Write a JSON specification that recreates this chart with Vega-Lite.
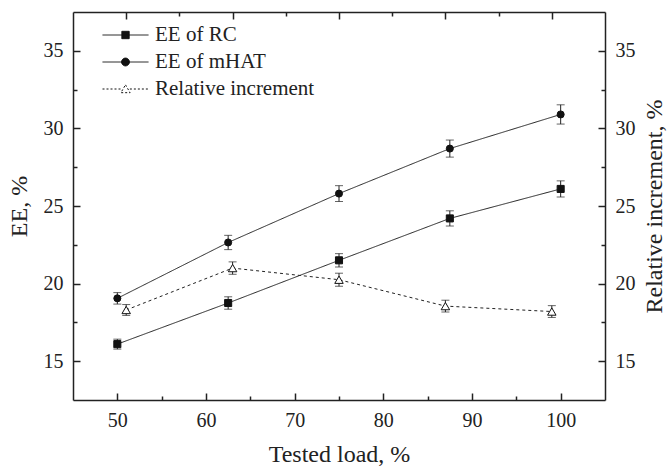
{
  "$schema": "https://vega.github.io/schema/vega-lite/v6.json",
  "width": 532,
  "height": 388,
  "padding": {"left": 73, "top": 12, "right": 65, "bottom": 66},
  "autosize": "none",
  "background": "white",
  "config": {
    "view": {"stroke": null},
    "axis": {
      "domainColor": "#222",
      "domainWidth": 1.5,
      "tickColor": "#222",
      "tickWidth": 1.5,
      "labelFont": "Liberation Serif",
      "titleFont": "Liberation Serif",
      "titleFontSize": 24,
      "titleFontWeight": "normal",
      "titleColor": "#222",
      "grid": false
    },
    "axisLeft": {"labelFont": "Liberation Serif"},
    "axisRight": {"labelFont": "Liberation Serif"},
    "axisBottom": {"labelFont": "Liberation Serif"},
    "axisQuantitative": {"labelFont": "Liberation Serif"}
  },
  "data": {
    "values": [
      {"series": "EE of RC", "load": 50, "value": 16.1, "lo": 15.78, "hi": 16.42},
      {"series": "EE of RC", "load": 62.5, "value": 18.75, "lo": 18.35, "hi": 19.15},
      {"series": "EE of RC", "load": 75, "value": 21.5, "lo": 21.07, "hi": 21.93},
      {"series": "EE of RC", "load": 87.5, "value": 24.2, "lo": 23.71, "hi": 24.69},
      {"series": "EE of RC", "load": 100, "value": 26.1, "lo": 25.58, "hi": 26.62},
      {"series": "EE of mHAT", "load": 50, "value": 19.05, "lo": 18.68, "hi": 19.42},
      {"series": "EE of mHAT", "load": 62.5, "value": 22.65, "lo": 22.19, "hi": 23.11},
      {"series": "EE of mHAT", "load": 75, "value": 25.8, "lo": 25.29, "hi": 26.31},
      {"series": "EE of mHAT", "load": 87.5, "value": 28.7, "lo": 28.15, "hi": 29.25},
      {"series": "EE of mHAT", "load": 100, "value": 30.9, "lo": 30.28, "hi": 31.52},
      {"series": "Relative increment", "load": 51, "value": 18.3, "lo": 17.95, "hi": 18.65},
      {"series": "Relative increment", "load": 63, "value": 21.0, "lo": 20.6, "hi": 21.4},
      {"series": "Relative increment", "load": 75, "value": 20.25, "lo": 19.83, "hi": 20.67},
      {"series": "Relative increment", "load": 87, "value": 18.55, "lo": 18.17, "hi": 18.93},
      {"series": "Relative increment", "load": 99, "value": 18.2, "lo": 17.82, "hi": 18.58}
    ]
  },
  "layer": [
    {
      "mark": {"type": "line", "color": "#222", "strokeWidth": 1},
      "encoding": {
        "x": {
          "field": "load", "type": "quantitative",
          "scale": {"domain": [45, 105], "nice": false, "zero": false},
          "axis": {"orient": "bottom", "values": [50, 60, 70, 80, 90, 100], "tickSize": -7, "labelPadding": 17, "labelFont": {"expr": "'Liberation Serif'"}, "labelFontSize": 20, "labelColor": "#222", "title": "Tested load, %", "titlePadding": 12}
        },
        "y": {
          "field": "value", "type": "quantitative",
          "scale": {"domain": [12.5, 37.5], "nice": false, "zero": false},
          "axis": {"orient": "left", "values": [15, 20, 25, 30, 35], "tickSize": -7, "labelPadding": 17, "labelFont": {"expr": "'Liberation Serif'"}, "labelFontSize": 20, "labelColor": "#222", "title": "EE, %", "titlePadding": 12}
        },
        "detail": {"field": "series"},
        "strokeDash": {
          "field": "series", "type": "nominal",
          "scale": {"domain": ["EE of RC", "EE of mHAT", "Relative increment"], "range": [[1, 0], [1, 0], [3, 3]]},
          "legend": null
        }
      }
    },
    {
      "mark": {"type": "rule", "color": "#222", "strokeWidth": 1},
      "encoding": {
        "x": {
          "field": "load", "type": "quantitative",
          "scale": {"domain": [45, 105], "nice": false, "zero": false},
          "axis": {"orient": "bottom", "values": [55, 65, 75, 85, 95], "tickSize": -4, "labels": false, "domain": false, "title": null}
        },
        "y": {
          "field": "lo", "type": "quantitative",
          "scale": {"domain": [12.5, 37.5], "nice": false, "zero": false},
          "axis": {"orient": "left", "values": [17.5, 22.5, 27.5, 32.5], "tickSize": -4, "labels": false, "domain": false, "title": null}
        },
        "y2": {"field": "hi"}
      }
    },
    {
      "mark": {"type": "tick", "orient": "horizontal", "color": "#222", "size": 8, "thickness": 1},
      "encoding": {
        "x": {
          "field": "load", "type": "quantitative",
          "scale": {"domain": [45, 105], "nice": false, "zero": false},
          "axis": {"orient": "top", "values": [51, 63, 75, 87, 99], "tickSize": -7, "labels": false, "title": null}
        },
        "y": {
          "field": "hi", "type": "quantitative",
          "scale": {"domain": [12.5, 37.5], "nice": false, "zero": false},
          "axis": {"orient": "right", "values": [15, 20, 25, 30, 35], "tickSize": -7, "labelPadding": 17, "labelFont": {"expr": "'Liberation Serif'"}, "labelFontSize": 20, "labelColor": "#222", "title": "Relative increment, %", "titleAngle": 270, "titleBaseline": "top", "titlePadding": 7}
        }
      }
    },
    {
      "mark": {"type": "tick", "orient": "horizontal", "color": "#222", "size": 8, "thickness": 1},
      "encoding": {
        "x": {
          "field": "load", "type": "quantitative",
          "scale": {"domain": [45, 105], "nice": false, "zero": false},
          "axis": {"orient": "top", "values": [57, 69, 81, 93], "tickSize": -4, "labels": false, "domain": false, "title": null}
        },
        "y": {
          "field": "lo", "type": "quantitative",
          "scale": {"domain": [12.5, 37.5], "nice": false, "zero": false},
          "axis": {"orient": "right", "values": [17.5, 22.5, 27.5, 32.5], "tickSize": -4, "labels": false, "domain": false, "title": null}
        }
      }
    },
    {
      "mark": {"type": "point", "filled": false, "stroke": "#111", "strokeWidth": 1, "opacity": 1},
      "encoding": {
        "x": {
          "field": "load", "type": "quantitative",
          "scale": {"domain": [45, 105], "nice": false, "zero": false},
          "axis": null
        },
        "y": {
          "field": "value", "type": "quantitative",
          "scale": {"domain": [12.5, 37.5], "nice": false, "zero": false},
          "axis": null
        },
        "fill": {
          "condition": {"test": "datum.series === 'Relative increment'", "value": "white"},
          "value": "#111"
        },
        "size": {
          "condition": {"test": "datum.series === 'Relative increment'", "value": 72},
          "value": 50
        },
        "shape": {
          "field": "series", "type": "nominal",
          "scale": {"domain": ["EE of RC", "EE of mHAT", "Relative increment"], "range": ["square", "circle", "triangle-up"]},
          "legend": null
        }
      }
    },
    {
      "transform": [{"filter": "datum.load < 0"}],
      "mark": {"type": "point", "filled": true, "strokeWidth": 1, "opacity": 1},
      "encoding": {
        "x": {
          "field": "load", "type": "quantitative",
          "scale": {"domain": [45, 105], "nice": false, "zero": false},
          "axis": null
        },
        "y": {
          "field": "value", "type": "quantitative",
          "scale": {"domain": [12.5, 37.5], "nice": false, "zero": false},
          "axis": null
        },
        "shape": {
          "field": "series", "type": "nominal",
          "scale": {
            "domain": ["EE of RC", "EE of mHAT", "Relative increment"],
            "range": [
              "M-1,0H1M-0.16,-0.16H0.16V0.16H-0.16Z",
              "M-1,0H1M-0.17,0A0.17,0.17 0 1,0 0.17,0A0.17,0.17 0 1,0 -0.17,0Z",
              "M-1,0H-0.19M0.19,0H1M0,-0.18L0.2,0.16H-0.2Z"
            ]
          },
          "legend": {
            "title": null,
            "orient": "none",
            "legendX": 29,
            "legendY": 11,
            "direction": "vertical",
            "symbolSize": 2116,
            "symbolStrokeWidth": 1,
            "symbolStrokeColor": "#111",
            "clipHeight": 24,
            "labelOffset": 6,
            "rowPadding": 3,
            "labelFont": "Liberation Serif",
            "labelFontSize": 21,
            "labelColor": "#222",
            "labelLimit": 400
          }
        },
        "fill": {
          "field": "series", "type": "nominal",
          "scale": {"domain": ["EE of RC", "EE of mHAT", "Relative increment"], "range": ["#111", "#111", "white"]}
        },
        "stroke": {
          "field": "series", "type": "nominal",
          "scale": {"domain": ["EE of RC", "EE of mHAT", "Relative increment"], "range": ["#111", "#111", "#111"]}
        },
        "strokeDash": {
          "field": "series", "type": "nominal",
          "scale": {"domain": ["EE of RC", "EE of mHAT", "Relative increment"], "range": [[1, 0], [1, 0], [2, 2]]}
        }
      }
    }
  ],
  "resolve": {
    "axis": {"x": "independent", "y": "independent"},
    "scale": {"shape": "independent", "fill": "independent", "stroke": "independent", "strokeDash": "independent"},
    "legend": {"shape": "independent", "fill": "independent", "stroke": "independent", "strokeDash": "independent"}
  }
}
